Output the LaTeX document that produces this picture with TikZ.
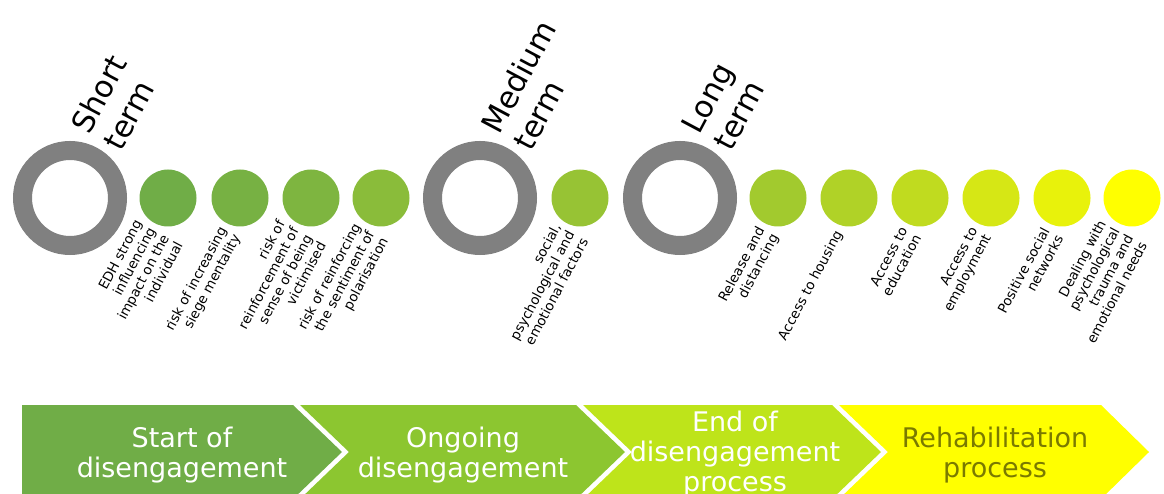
\documentclass[tikz,border=0pt]{standalone}
\usepackage{fontspec}
\setmainfont{DejaVu Sans}
\usetikzlibrary{positioning}
\definecolor{startgreen}{RGB}{112,173,71}
\definecolor{endyellow}{RGB}{255,255,0}
\definecolor{midgreen}{RGB}{140,198,48}
\definecolor{limegreen}{RGB}{190,228,26}
\definecolor{ringgray}{RGB}{128,128,128}
\definecolor{olivetext}{RGB}{122,122,0}
\tikzset{
    ring/.style={circle, draw=ringgray, line width=19pt, minimum size=95pt, inner sep=0pt},
    dot/.style={circle, minimum size=57pt, inner sep=0pt},
    dotlabel/.style={anchor=east, rotate=62, align=right, inner sep=1pt,
        font=\fontsize{13.5}{15.5}\selectfont},
    termlabel/.style={anchor=south west, rotate=62, align=left, inner sep=0pt,
        font=\fontsize{30.5}{36}\selectfont},
    chevtext/.style={align=center, text=white, font=\fontsize{27}{30}\selectfont},
}
\begin{document}
\begin{tikzpicture}[x=1pt,y=-1pt]
    \useasboundingbox (0,0) rectangle (1164,494);
    \clip (0,0) rectangle (1164,494);
    % rings
    \node[ring] (r1) at (70,198) {};
    \node[ring] (r2) at (480,198) {};
    \node[ring] (r3) at (680,198) {};
    \node[termlabel] (short) at ([shift={(52,-45)}]r1.center) {Short\\term};
    \node[termlabel] (medium) at ([shift={(52,-45)}]r2.center) {Medium\\term};
    \node[termlabel] (long) at ([shift={(52,-45)}]r3.center) {Long\\term};
    % dots, green to yellow
    \foreach \x/\p [count=\i] in {168/0,240/5,311/10,381/18,580/27,778/35,849/45,920/56,991/71,1062/84,1132/100} {
        \node[dot, fill=endyellow!\p!startgreen] (d\i) at (\x,198) {};
    }
    % dot labels
    \node[dotlabel] (l1) at ([shift={(-9,33)}]d1.center) {EDH strong\\influencing\\impact on the\\individual};
    \node[dotlabel] (l2) at ([shift={(-9,33)}]d2.center) {risk of increasing\\siege mentality};
    \node[dotlabel] (l3) at ([shift={(-9,33)}]d3.center) {risk of\\reinforcement of\\sense of being\\victimised};
    \node[dotlabel] (l4) at ([shift={(-9,33)}]d4.center) {risk of reinforcing\\the sentiment of\\polarisation};
    \node[dotlabel] (l5) at ([shift={(-9,33)}]d5.center) {social,\\psychological and\\emotional factors};
    \node[dotlabel] (l6) at ([shift={(-9,33)}]d6.center) {Release and\\distancing};
    \node[dotlabel] (l7) at ([shift={(-9,33)}]d7.center) {Access to housing};
    \node[dotlabel] (l8) at ([shift={(-9,33)}]d8.center) {Access to\\education};
    \node[dotlabel] (l9) at ([shift={(-9,33)}]d9.center) {Access to\\employment};
    \node[dotlabel] (l10) at ([shift={(-9,33)}]d10.center) {Positive social\\networks};
    \node[dotlabel] (l11) at ([shift={(-9,33)}]d11.center) {Dealing with\\psychological\\trauma and\\emotional needs};
    % chevrons
    \fill[startgreen] (22,405) -- (293,405) -- (342,452) -- (293,499) -- (22,499) -- cycle;
    \fill[midgreen] (300,405) -- (576,405) -- (625,452) -- (576,499) -- (300,499) -- (349,452) -- cycle;
    \fill[limegreen] (583,405) -- (832,405) -- (881,452) -- (832,499) -- (583,499) -- (632,452) -- cycle;
    \fill[endyellow] (839,405) -- (1101,405) -- (1149,452) -- (1101,499) -- (839,499) -- (888,452) -- cycle;
    \node[chevtext] (start) at (182,455) {Start of\\disengagement};
    \node[chevtext] (ongoing) at (463,455) {Ongoing\\disengagement};
    \node[chevtext] (endproc) at (735,454) {End of\\disengagement\\process};
    \node[chevtext, text=olivetext] (rehab) at (995,455) {Rehabilitation\\process};
\end{tikzpicture}
\end{document}
